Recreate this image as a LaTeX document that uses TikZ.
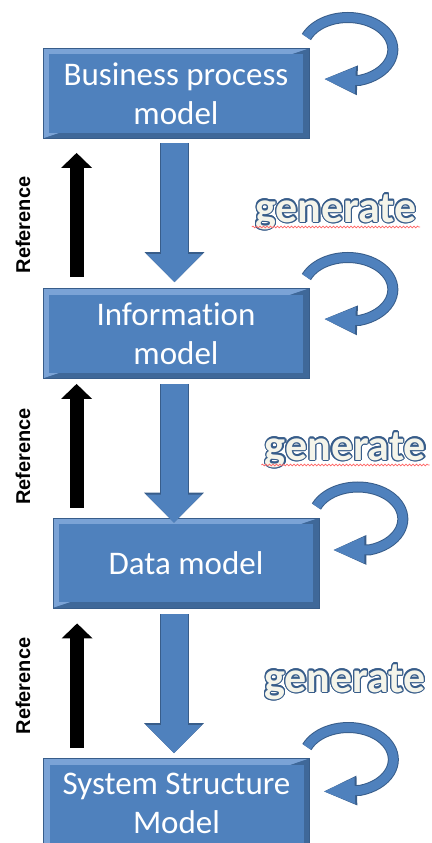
\documentclass[tikz,border=0pt]{standalone}
\usepackage{fontspec}
\setmainfont{Carlito}[Ligatures=NoCommon]
\newfontfamily\reffont{Liberation Sans}
\usepackage{contour}
\usetikzlibrary{arrows.meta,calc,decorations.pathmorphing}
\definecolor{boxblue}{HTML}{4F81BD}
\definecolor{boxlight}{HTML}{7BA3D6}
\definecolor{boxdark}{HTML}{385D8A}
\definecolor{gencream}{HTML}{F4F4EA}
\contourlength{1.2pt}

\begin{document}
\begin{tikzpicture}[x=1pt, y=-1pt,
    model/.style={minimum width=266pt, minimum height=90pt, inner sep=0pt,
      draw=boxdark, line width=0.8pt, fill=boxblue, text=white, align=center,
      font=\fontsize{33}{39}\selectfont,
      path picture={
        \fill[boxlight] (path picture bounding box.north west) -- (path picture bounding box.north east)
          -- (path picture bounding box.south west) -- cycle;
        \fill[boxdark!70!boxblue] (path picture bounding box.north east) -- (path picture bounding box.south east)
          -- (path picture bounding box.south west) -- cycle;
        \fill[boxblue] ([shift={(6pt,-6pt)}]path picture bounding box.north west)
          rectangle ([shift={(-6pt,6pt)}]path picture bounding box.south east);
      }},
    flow/.style={line width=27pt, draw=boxblue, -{Triangle[width=54pt,length=28pt]},
      preaction={draw=boxdark, line width=29pt, -{Triangle[width=58pt,length=30pt]}}},
    refarrow/.style={line width=14pt, -{Triangle[width=30pt,length=15pt]}},
    uturn/.style={line width=9pt, draw=boxblue, -{Triangle[width=24pt,length=32pt]},
      preaction={draw=boxdark, line width=11pt, -{Triangle[width=27pt,length=34pt]}}},
    reflabel/.style={rotate=90, font=\reffont\bfseries\fontsize{20}{24}\selectfont},
    gen/.style={anchor=base, text=gencream, font=\bfseries\fontsize{44}{52}\selectfont},
    squiggle/.style={red!60, line width=0.7pt, decorate,
      decoration={snake, amplitude=0.9pt, segment length=3.5pt}}]
  \useasboundingbox (0,0) rectangle (431,843);
  \clip (0,0) rectangle (431,843);

  % models
  \node[model] (bp) at (176,93.5) {Business process\\model};
  \node[model] (info) at (176,333.5) {Information\\model};
  \node[model] (data) at (186,563) {Data model};
  \node[model] (sys) at (176.5,803.5) {System Structure\\Model};

  % generate arrows
  \draw[flow] ([xshift=-1.5pt,yshift=-4pt]bp.south) -- ([xshift=-1.5pt,yshift=6pt]info.north);
  \draw[flow] ([xshift=-2pt,yshift=-5pt]info.south) -- ($(info.south |- data.north)+(-2pt,-5pt)$);
  \draw[flow] ($(info.south |- data.south)+(-2pt,-6pt)$) -- ([xshift=-2.5pt,yshift=5pt]sys.north);

  % reference arrows
  \draw[refarrow] ([shift={(34pt,11pt)}]info.north west) -- ([shift={(34pt,-14pt)}]bp.south west);
  \draw[refarrow] ($(data.north -| info.west)+(34pt,10pt)$) -- ([shift={(34pt,-5pt)}]info.south west);
  \draw[refarrow] ([shift={(34pt,10pt)}]sys.north west) -- ($(data.south -| sys.west)+(34pt,-15pt)$);

  \node[reflabel] (ref1) at (23,225) {Reference};
  \node[reflabel] (ref2) at (23,456.5) {Reference};
  \node[reflabel] (ref3) at (23,686) {Reference};

  \node[gen] (gen1) at (336,222) {\contour{boxdark}{generate}};
  \node[gen] (gen2) at (345.5,460) {\contour{boxdark}{generate}};
  \node[gen] (gen3) at (345,692) {\contour{boxdark}{generate}};
  \draw[squiggle] ([yshift=-5pt]gen1.base west) -- ([yshift=-5pt]gen1.base east);
  \draw[squiggle] ([yshift=-5pt]gen2.base west) -- ([yshift=-5pt]gen2.base east);

  % self loops
  \draw[uturn] ([shift={(-3pt,56.5pt)}]bp.east) arc[start angle=157, end angle=-75, x radius=45pt, y radius=32pt]
    -- ([shift={(14pt,14.5pt)}]bp.east);
  \draw[uturn] ([shift={(-3pt,56.5pt)}]info.east) arc[start angle=157, end angle=-75, x radius=45pt, y radius=32pt]
    -- ([shift={(14pt,14.5pt)}]info.east);
  \draw[uturn] ([shift={(-3pt,56.5pt)}]data.east) arc[start angle=157, end angle=-75, x radius=45pt, y radius=32pt]
    -- ([shift={(13pt,13pt)}]data.east);
  \draw[uturn] ([shift={(-3pt,56.5pt)}]sys.east) arc[start angle=157, end angle=-75, x radius=45pt, y radius=32pt]
    -- ([shift={(13pt,12pt)}]sys.east);
\end{tikzpicture}
\end{document}
